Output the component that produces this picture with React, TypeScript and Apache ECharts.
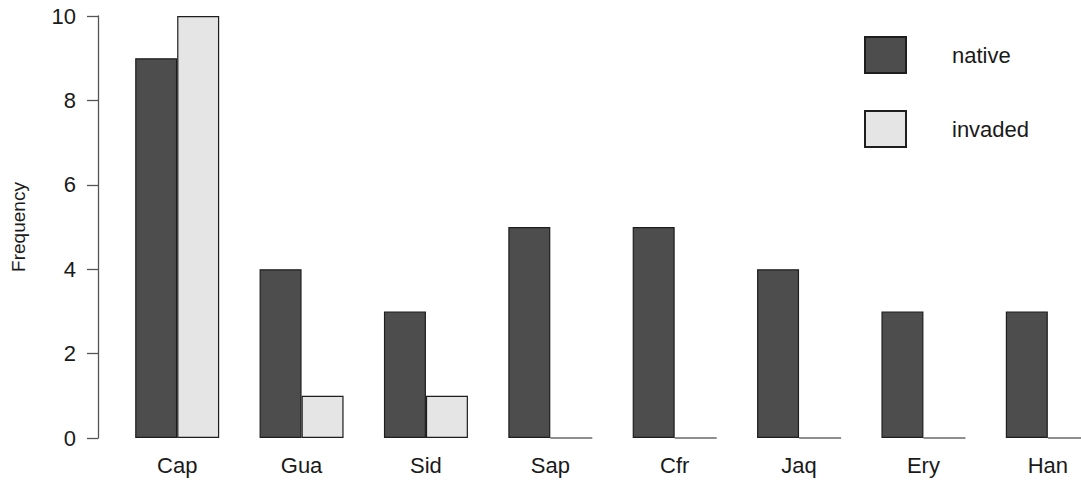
import React, { useEffect, useRef } from "react";
import * as echarts from "echarts";

const categories = ["Cap", "Gua", "Sid", "Sap", "Cfr", "Jaq", "Ery", "Han"];
const nativeValues = [9, 4, 3, 5, 5, 4, 3, 3];
const invadedValues = [10, 1, 1, 0, 0, 0, 0, 0];
const yTicks = [0, 2, 4, 6, 8, 10];
const seriesNames = ["native", "invaded"];

const FONT = "'Liberation Sans', Arial, sans-serif";

export default function App() {
  const ref = useRef<HTMLDivElement>(null);
  useEffect(() => {
    if (!ref.current) return;
    const chart = echarts.init(ref.current, null, { renderer: "svg" });
    chart.setOption({
      animation: false,
      backgroundColor: "#ffffff",
      textStyle: { fontFamily: FONT },
      grid: { left: 115, top: 16, width: 995, height: 422, containLabel: false },
      legend: {
        orient: "vertical",
        left: 864,
        top: 36,
        padding: 0,
        itemWidth: 41,
        itemHeight: 36,
        itemGap: 36,
        icon: "rect",
        selectedMode: false,
        data: seriesNames,
        textStyle: {
          fontFamily: FONT,
          fontSize: 22,
          color: "#1a1a1a",
          padding: [0, 0, 0, 41],
        },
      },
      xAxis: {
        type: "category",
        data: categories,
        axisLine: { show: false },
        axisTick: { show: false },
        axisLabel: {
          margin: 16,
          fontSize: 22,
          color: "#1a1a1a",
          fontFamily: FONT,
        },
        splitLine: { show: false },
      },
      yAxis: {
        type: "value",
        min: yTicks[0],
        max: yTicks[yTicks.length - 1],
        interval: 2,
        offset: 17,
        name: "Frequency",
        nameLocation: "middle",
        nameRotate: 90,
        nameGap: 70,
        nameTextStyle: { fontSize: 19, color: "#1a1a1a", fontFamily: FONT },
        axisLine: { show: true, lineStyle: { color: "#555", width: 1.3 } },
        axisTick: { show: true, inside: false, length: 11, lineStyle: { color: "#555", width: 1.3 } },
        axisLabel: { margin: 22, fontSize: 22, color: "#1a1a1a", fontFamily: FONT },
        splitLine: { show: false },
      },
      series: [
        {
          name: seriesNames[0],
          type: "bar",
          data: nativeValues,
          barWidth: 42,
          barGap: "0%",
          itemStyle: { color: "#4d4d4d", borderColor: "#1e1e1e", borderWidth: 1.2 },
        },
        {
          name: seriesNames[1],
          type: "bar",
          data: invadedValues,
          barWidth: 42,
          barGap: "0%",
          itemStyle: { color: "#e5e5e5", borderColor: "#1e1e1e", borderWidth: 1.2 },
        },
      ],
    });
    return () => chart.dispose();
  }, []);
  return (
    <div style={{ position: "fixed", left: 0, top: 0, width: 1081, height: 481, overflow: "hidden" }}>
      <div ref={ref} style={{ width: 1120, height: 481 }} />
    </div>
  );
}
